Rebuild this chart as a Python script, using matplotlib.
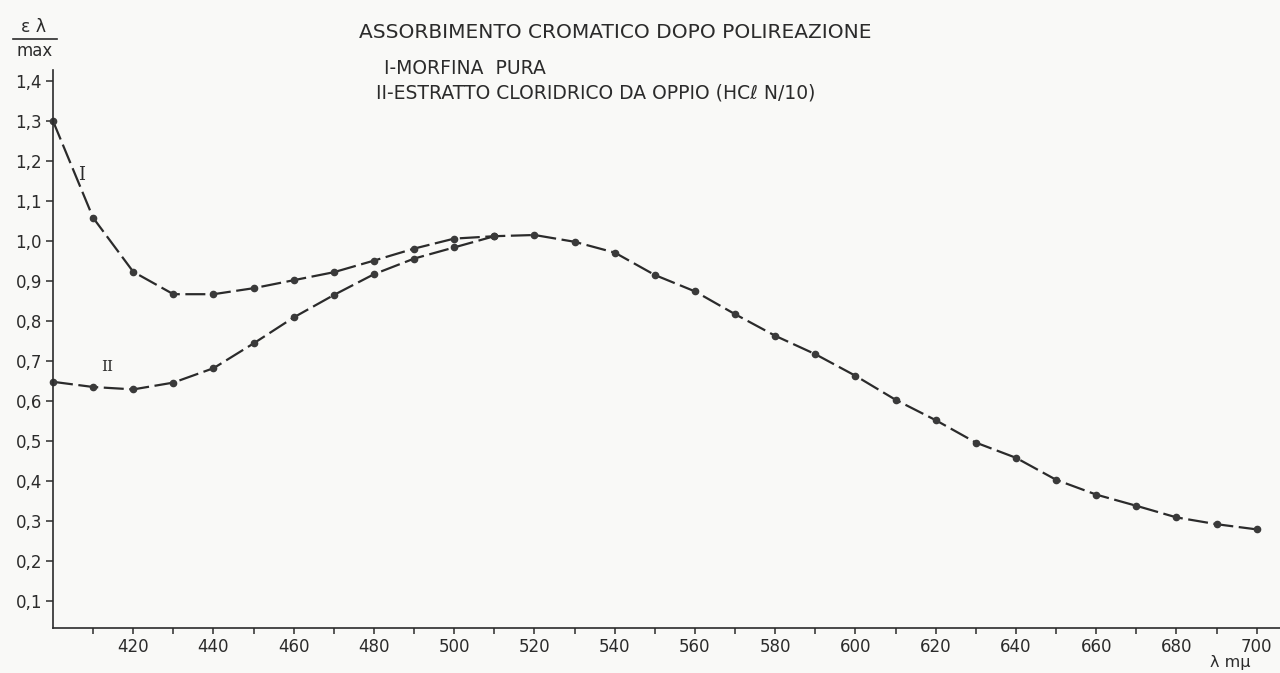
import matplotlib
matplotlib.use("Agg")
import matplotlib.pyplot as plt
from matplotlib.lines import Line2D

# Absorption readings after polyreaction
wavelength_I = [400, 410, 420, 430, 440, 450, 460, 470, 480, 490, 500, 510,
                520, 530, 540, 550, 560, 570, 580, 590, 600, 610, 620, 630,
                640, 650, 660, 670, 680, 690, 700]
morfina_pura = [1.300, 1.058, 0.923, 0.867, 0.867, 0.882, 0.902, 0.922, 0.951, 0.981, 1.006, 1.012,
                1.015, 0.998, 0.971, 0.915, 0.874, 0.817, 0.763, 0.717, 0.663, 0.603, 0.552, 0.496,
                0.458, 0.403, 0.366, 0.338, 0.309, 0.292, 0.279]

wavelength_II = [400, 410, 420, 430, 440, 450, 460, 470, 480, 490, 500, 510]
estratto_oppio = [0.648, 0.635, 0.629, 0.646, 0.682, 0.744, 0.809, 0.865, 0.917, 0.956, 0.984, 1.012]

y_ticks = [0.1, 0.2, 0.3, 0.4, 0.5, 0.6, 0.7, 0.8, 0.9, 1.0, 1.1, 1.2, 1.3, 1.4]
y_labels = ["0,1", "0,2", "0,3", "0,4", "0,5", "0,6", "0,7", "0,8", "0,9",
            "1,0", "1,1", "1,2", "1,3", "1,4"]
x_major = [420, 440, 460, 480, 500, 520, 540, 560, 580, 600, 620, 640, 660, 680, 700]
x_minor = [410, 430, 450, 470, 490, 510, 530, 550, 570, 590, 610, 630, 650, 670, 690]

title = "ASSORBIMENTO CROMATICO DOPO POLIREAZIONE"
legend_I = "I-MORFINA  PURA"
legend_II = "II-ESTRATTO CLORIDRICO DA OPPIO (HCℓ N/10)"

ink = "#2b2b2b"
paper = "#f9f9f7"
W, H = 1280, 673


def fx(px):
    return px / W


def fy(py):
    return 1 - py / H


fig = plt.figure(figsize=(12.8, 6.73), dpi=100, facecolor=paper)
ax = fig.add_axes([fx(53), fy(628), fx(1280) - fx(53), fy(70) - fy(628)])
ax.set_facecolor(paper)

dash = (0, (9, 2.5))
ax.plot(wavelength_I, morfina_pura, color=ink, lw=1.6, linestyle=dash,
        marker="o", markersize=4.5, markerfacecolor="#3a3a3a", markeredgecolor="#3a3a3a",
        clip_on=False)
ax.plot(wavelength_II, estratto_oppio, color=ink, lw=1.6, linestyle=dash,
        marker="o", markersize=4.5, markerfacecolor="#3a3a3a", markeredgecolor="#3a3a3a",
        clip_on=False)

ax.set_xlim(400, 705.8)
ax.set_ylim(0.0325, 1.4275)

for s in ["top", "right"]:
    ax.spines[s].set_visible(False)
for s in ["left", "bottom"]:
    ax.spines[s].set_color(ink)
    ax.spines[s].set_linewidth(1.2)

ax.set_yticks(y_ticks)
ax.set_yticklabels(y_labels)
ax.set_xticks(x_major)
ax.set_xticks(x_minor, minor=True)
ax.tick_params(axis="y", direction="out", length=5, width=1.1, pad=3,
               labelsize=12, colors=ink)
ax.tick_params(axis="x", which="major", direction="out", length=4.5, width=1.1, pad=3,
               labelsize=12, colors=ink)
ax.tick_params(axis="x", which="minor", direction="out", length=4.5, width=1.1, colors=ink)

# curve labels
fig.text(fx(82), fy(175), "I", family="DejaVu Serif", fontsize=13, color=ink,
         ha="center", va="center")
fig.text(fx(107), fy(367), "II", family="DejaVu Serif", fontsize=11, color=ink,
         ha="center", va="center")

# header texts
fig.text(fx(615), fy(32), title, fontsize=14.5, color=ink, ha="center", va="center")
fig.text(fx(384), fy(68), legend_I, fontsize=13.5, color=ink, ha="left", va="center")
fig.text(fx(376), fy(93), legend_II, fontsize=13.5, color=ink, ha="left", va="center")

# y axis label as a fraction
fig.text(fx(34), fy(27), "ε λ", fontsize=12.5, color=ink, ha="center", va="center")
fig.add_artist(Line2D([fx(13), fx(57)], [fy(39), fy(39)], color=ink, lw=1.2))
fig.text(fx(35), fy(51), "max", fontsize=12, color=ink, ha="center", va="center")

# x axis label
fig.text(fx(1230), fy(662), "λ mμ", fontsize=11.5, color=ink, ha="center", va="center")

fig.savefig("out.png", dpi=100, facecolor=paper)
